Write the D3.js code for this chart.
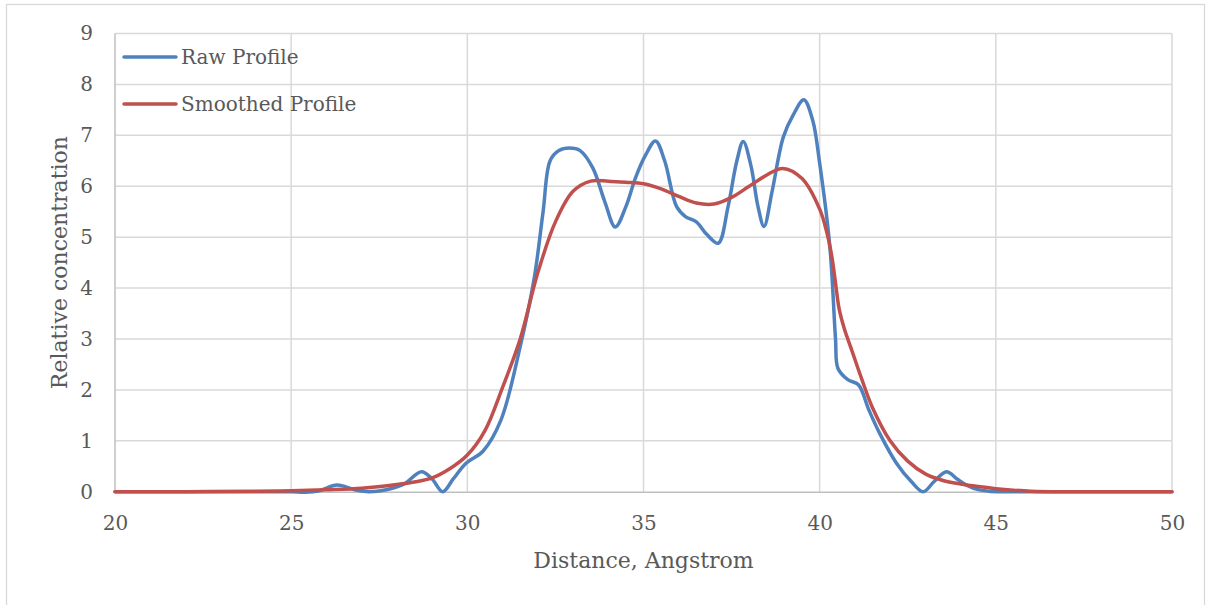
<!DOCTYPE html>
<html>
<head>
<meta charset="utf-8">
<script src="https://cdn.jsdelivr.net/npm/d3@7"></script>
<style>
  html, body { margin: 0; padding: 0; background: #fff; }
  svg text { font-family: "DejaVu Serif", "Liberation Serif", serif; fill: #595959; }
</style>
</head>
<body>
<svg id="chart" width="1211" height="605"></svg>
<script>
// Raw concentration profile (distance in Angstrom, relative concentration)
const rawX = [20, 21, 22, 23, 24, 25, 25.4, 25.8, 26.3, 26.8, 27.2, 27.7, 28.2, 28.7, 29.0, 29.3, 29.6, 29.95,
  30.45, 30.95, 31.5, 31.9, 32.15, 32.35, 32.6, 32.9, 33.2, 33.56, 33.9, 34.2, 34.5, 34.77, 35.05, 35.34, 35.6,
  35.94, 36.2, 36.5, 36.8, 37.12, 37.4, 37.65, 37.83, 38.05, 38.25, 38.42, 38.65, 38.97, 39.25, 39.55, 39.8,
  40.0, 40.29, 40.45, 40.52, 40.8, 41.1, 41.4, 41.7, 42.18, 42.6, 42.94, 43.25, 43.6, 43.9, 44.17, 44.5, 44.8,
  45.2, 46, 47, 48, 49, 50];
const rawY = [0, 0, 0, 0, 0, 0, -0.01, 0.02, 0.13, 0.04, 0.0, 0.04, 0.15, 0.39, 0.25, 0.0, 0.25, 0.55,
  0.8, 1.4, 2.85, 4.2, 5.5, 6.5, 6.7, 6.75, 6.7, 6.36, 5.7, 5.2, 5.6, 6.16, 6.6, 6.89, 6.5,
  5.6, 5.4, 5.3, 5.05, 4.88, 5.6, 6.5, 6.88, 6.4, 5.6, 5.21, 5.9, 6.97, 7.4, 7.7, 7.3,
  6.45, 4.8, 3.0, 2.42, 2.2, 2.1, 1.6, 1.15, 0.56, 0.2, 0.0, 0.2, 0.39, 0.25, 0.13, 0.04, 0.01,
  0, 0, 0, 0, 0, 0];

// Smoothed concentration profile
const smoothX = [20, 22, 24, 25, 26, 27, 28, 28.5, 29, 29.5, 30, 30.5, 31, 31.5, 32, 32.5, 33, 33.5, 34,
  34.5, 35, 35.5, 36, 36.5, 37, 37.5, 38, 38.5, 38.95, 39.5, 40, 40.2, 40.35, 40.45, 40.55, 40.7, 40.9, 41.2,
  41.5, 42, 42.5, 43, 43.5, 44, 44.5, 45, 45.5, 46, 47, 48, 50];
const smoothY = [0, 0, 0.01, 0.02, 0.04, 0.07, 0.14, 0.19, 0.27, 0.45, 0.72, 1.2, 2.05, 3.0, 4.3, 5.3, 5.9, 6.1, 6.1,
  6.08, 6.05, 5.95, 5.8, 5.67, 5.65, 5.78, 6.0, 6.22, 6.35, 6.15, 5.55, 5.1, 4.6, 4.1, 3.6, 3.2, 2.8, 2.2,
  1.65, 1.0, 0.6, 0.35, 0.22, 0.15, 0.1, 0.06, 0.03, 0.01, 0, 0, 0];

const xTicks = [20, 25, 30, 35, 40, 45, 50];
const yTicks = [0, 1, 2, 3, 4, 5, 6, 7, 8, 9];
const seriesNames = ["Raw Profile", "Smoothed Profile"];
const seriesColors = ["#4f81bd", "#c0504d"];

const svg = d3.select("#chart");
const plot = { left: 115, right: 1172, top: 33.5, bottom: 491.7 };

const x = d3.scaleLinear().domain([20, 50]).range([plot.left, plot.right]);
const y = d3.scaleLinear().domain([0, 9]).range([plot.bottom, plot.top]);

// chart frame
svg.append("rect")
  .attr("x", 6.5).attr("y", 4.5).attr("width", 1198).attr("height", 620)
  .attr("fill", "#fff").attr("stroke", "#d9d9d9").attr("stroke-width", 1.3);

// gridlines
const grid = svg.append("g");
grid.selectAll("line.h").data(yTicks.filter(d => d > 0)).join("line")
  .attr("x1", plot.left).attr("x2", plot.right)
  .attr("y1", d => y(d)).attr("y2", d => y(d))
  .attr("stroke", "#d9d9d9").attr("stroke-width", 1.5);
grid.selectAll("line.v").data(xTicks).join("line")
  .attr("y1", plot.top).attr("y2", plot.bottom)
  .attr("x1", d => x(d)).attr("x2", d => x(d))
  .attr("stroke", d => d === 20 ? "#bfbfbf" : "#d9d9d9").attr("stroke-width", 1.5);

// axes
const tickFont = 20;
const xAxis = d3.axisBottom(x).tickValues(xTicks).tickSize(0).tickPadding(24).tickFormat(d3.format("d"));
const gx = svg.append("g").attr("transform", `translate(0,${plot.bottom})`).call(xAxis);
gx.select(".domain").attr("stroke", "#bfbfbf").attr("stroke-width", 1.5);
gx.selectAll("text").attr("font-size", tickFont).attr("fill", "#595959").style("font-family", "DejaVu Serif, serif");

const yAxis = d3.axisLeft(y).tickValues(yTicks).tickSize(0).tickPadding(22).tickFormat(d3.format("d"));
const gy = svg.append("g").attr("transform", `translate(${plot.left},0)`).call(yAxis);
gy.select(".domain").remove();
gy.selectAll("text").attr("font-size", tickFont).attr("fill", "#595959").style("font-family", "DejaVu Serif, serif");

// axis titles
svg.append("text").attr("x", (plot.left + plot.right) / 2).attr("y", 568)
  .attr("text-anchor", "middle").attr("font-size", 22).text("Distance, Angstrom");
svg.append("text")
  .attr("transform", `translate(67,${(plot.top + plot.bottom) / 2}) rotate(-90)`)
  .attr("text-anchor", "middle").attr("font-size", 22).text("Relative concentration");

// series
const line = d3.line().x(d => x(d[0])).y(d => y(d[1])).curve(d3.curveCatmullRom.alpha(0.5));
const rawData = rawX.map((v, i) => [v, rawY[i]]);
const smoothData = smoothX.map((v, i) => [v, smoothY[i]]);

svg.append("path").datum(rawData).attr("d", line)
  .attr("fill", "none").attr("stroke", seriesColors[0]).attr("stroke-width", 3.5)
  .attr("stroke-linejoin", "round").attr("stroke-linecap", "round");
svg.append("path").datum(smoothData).attr("d", line)
  .attr("fill", "none").attr("stroke", seriesColors[1]).attr("stroke-width", 3.5)
  .attr("stroke-linejoin", "round").attr("stroke-linecap", "round");

// legend
const legend = svg.append("g");
seriesNames.forEach((name, i) => {
  const ly = 57 + i * 47;
  legend.append("line").attr("x1", 124).attr("x2", 176).attr("y1", ly).attr("y2", ly)
    .attr("stroke", seriesColors[i]).attr("stroke-width", 3.5).attr("stroke-linecap", "round");
  legend.append("text").attr("x", 181).attr("y", ly + 7).attr("font-size", 20).text(name);
});
</script>
</body>
</html>
